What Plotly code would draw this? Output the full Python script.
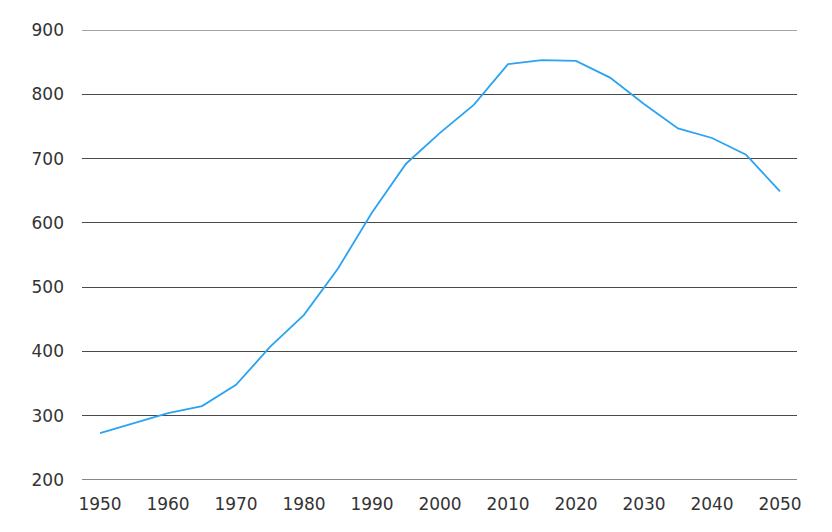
import plotly.graph_objects as go

years = [1950, 1955, 1960, 1965, 1970, 1975, 1980, 1985, 1990, 1995, 2000,
         2005, 2010, 2015, 2020, 2025, 2030, 2035, 2040, 2045, 2050]
values = [273, 288, 304, 315, 348, 407, 457, 529, 616, 692, 740,
          784, 847, 853, 852, 826, 785, 747, 732, 706, 649]
x_ticks = [1950, 1960, 1970, 1980, 1990, 2000, 2010, 2020, 2030, 2040, 2050]
y_ticks = [200, 300, 400, 500, 600, 700, 800, 900]

fig = go.Figure()
fig.add_trace(go.Scatter(x=years, y=values, mode="lines",
                         line=dict(color="#2aa3f3", width=1.8),
                         showlegend=False, hoverinfo="skip"))

font = dict(family="DejaVu Sans, sans-serif", size=17, color="#333333")
fig.update_layout(
    width=816, height=516,
    margin=dict(l=74, r=27, t=22, b=44),
    paper_bgcolor="white", plot_bgcolor="white",
    font=font,
    xaxis=dict(range=[1947.35, 2052.5], tickvals=x_ticks, showgrid=False,
               zeroline=False, showline=False, ticks="", ticklabelstandoff=12,
               automargin=False),
    yaxis=dict(range=[200, 900], tickvals=y_ticks, showgrid=True,
               gridcolor="#4a4a4a", gridwidth=1, zeroline=False,
               showline=False, ticks="", ticklabelstandoff=17,
               automargin=False),
)
fig.add_hline(y=900, line=dict(color="#4a4a4a", width=1.2))
fig.add_hline(y=200, line=dict(color="#111111", width=1.2))
fig.write_html("out.html")
